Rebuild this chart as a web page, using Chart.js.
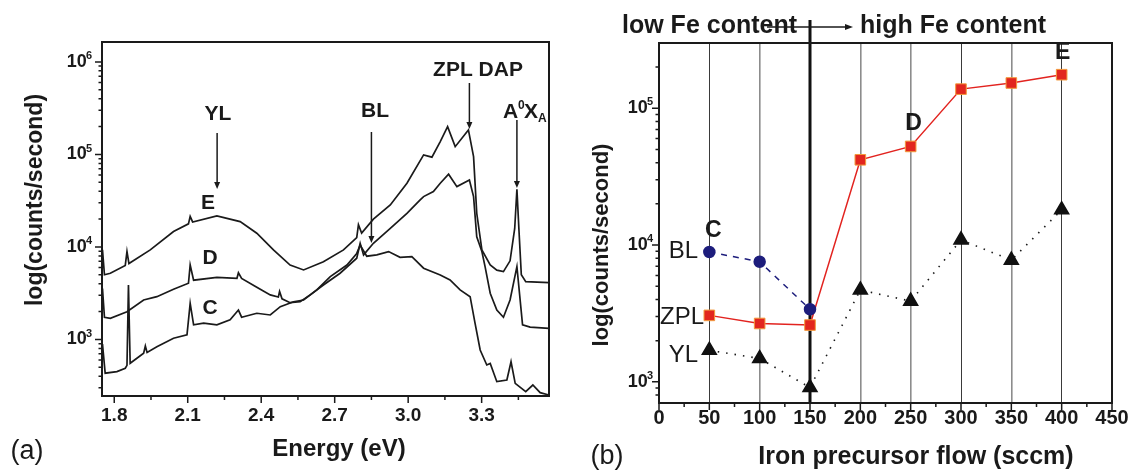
<!DOCTYPE html>
<html>
<head>
<meta charset="utf-8">
<script src="https://cdn.jsdelivr.net/npm/chart.js@4.4.1/dist/chart.umd.min.js"></script>
<style>
  body { margin: 0; background: #fff; }
  #wrap { position: relative; width: 1133px; height: 472px; }
  canvas { position: absolute; top: 0; }
  #left { left: 0; }
  #right { left: 575px; }
</style>
</head>
<body>
<div id="wrap">
  <canvas id="left" width="575" height="472"></canvas>
  <canvas id="right" width="558" height="472"></canvas>
</div>
<script>
// ---- (a) PL spectra, energy in eV, counts/second ----
const energyE = [1.752, 1.760, 1.784, 1.845, 1.852, 1.860, 1.947, 2.042, 2.103, 2.110, 2.120, 2.219, 2.314, 2.382, 2.450, 2.518, 2.573, 2.654, 2.736, 2.790, 2.797, 2.810, 2.858, 2.927, 2.995, 3.063, 3.097, 3.131, 3.161, 3.192, 3.246, 3.267, 3.280, 3.301, 3.335, 3.362, 3.389, 3.416, 3.435, 3.444, 3.452, 3.462, 3.480, 3.575];
const countsE = [9330, 5010, 5200, 6310, 8910, 6610, 9290, 14660, 17780, 21380, 18620, 21630, 18790, 14060, 9290, 6380, 5640, 6930, 9290, 12590, 17380, 14130, 19950, 28440, 48870, 98850, 93330, 137700, 199500, 121300, 184100, 94620, 23120, 9290, 6380, 5620, 5410, 7080, 15850, 42070, 15850, 5010, 4220, 4110];

const energyD = [1.752, 1.760, 1.784, 1.852, 1.920, 1.974, 2.042, 2.103, 2.110, 2.124, 2.219, 2.301, 2.307, 2.320, 2.382, 2.437, 2.470, 2.475, 2.485, 2.518, 2.559, 2.600, 2.654, 2.722, 2.790, 2.804, 2.818, 2.858, 2.927, 2.995, 3.049, 3.063, 3.103, 3.131, 3.165, 3.199, 3.250, 3.267, 3.280, 3.301, 3.314, 3.335, 3.362, 3.389, 3.416, 3.444, 3.467, 3.498, 3.575];
const countsD = [3550, 1740, 1690, 1995, 2670, 2900, 3490, 4050, 6380, 4370, 4700, 4580, 5250, 4570, 3660, 3030, 2880, 3310, 2750, 2500, 2560, 3030, 3880, 5200, 7550, 10960, 8200, 10960, 15850, 23120, 32210, 34990, 39630, 48870, 61090, 44870, 52970, 34990, 12880, 8910, 6120, 3160, 2080, 1740, 2670, 6120, 1440, 1360, 1320];

const energyC = [1.752, 1.763, 1.811, 1.845, 1.852, 1.858, 1.865, 1.920, 1.927, 1.934, 1.974, 2.042, 2.097, 2.110, 2.124, 2.165, 2.219, 2.273, 2.307, 2.320, 2.382, 2.437, 2.478, 2.532, 2.573, 2.627, 2.682, 2.750, 2.790, 2.804, 2.831, 2.872, 2.920, 2.967, 3.015, 3.063, 3.131, 3.171, 3.212, 3.253, 3.273, 3.294, 3.321, 3.335, 3.362, 3.403, 3.420, 3.437, 3.480, 3.509, 3.539, 3.575];
const countsC = [891, 432, 449, 489, 525, 3880, 553, 710, 851, 724, 836, 1030, 1120, 2460, 1440, 1500, 1440, 1630, 2080, 1740, 1920, 1840, 2260, 2560, 2670, 3430, 4780, 6380, 8510, 10470, 7940, 8200, 8910, 7730, 7850, 5890, 4980, 4400, 3430, 2900, 1500, 769, 530, 550, 350, 365, 575, 336, 273, 322, 266, 251];

const energyTicks = [1.8, 2.1, 2.4, 2.7, 3.0, 3.3];
const energyTickLabels = ['1.8', '2.1', '2.4', '2.7', '3.0', '3.3'];
const energyMinorTicks = [1.95, 2.25, 2.55, 2.85, 3.15, 3.45];
const spectrumDecades = [1e3, 1e4, 1e5, 1e6];
const spectrumExponents = ['3', '4', '5', '6'];

// ---- (b) peak intensities vs iron precursor flow ----
const flow = [50, 100, 150, 200, 250, 300, 350, 400];
const zplCounts = [3060, 2670, 2600, 42000, 52600, 138000, 153000, 176000];
const ylCounts = [1700, 1480, 908, 4690, 3890, 10900, 7760, 18100];
const blFlow = [50, 100, 150];
const blCounts = [8900, 7550, 3390];

const flowTicks = [0, 50, 100, 150, 200, 250, 300, 350, 400, 450];
const flowTickLabels = ['0', '50', '100', '150', '200', '250', '300', '350', '400', '450'];
const flowMinorTicks = [25, 75, 125, 175, 225, 275, 325, 375, 425];
const flowDecades = [1e3, 1e4, 1e5];
const flowExponents = ['3', '4', '5'];

const FONT = '"Liberation Sans", Arial, sans-serif';

function toXY(xs, ys) {
  return xs.map((x, i) => ({ x: x, y: ys[i] }));
}

function minorLogTicks(decades, min, max) {
  const out = [];
  const all = [decades[0] / 10].concat(decades);
  all.forEach(d => {
    for (let k = 2; k <= 9; k++) {
      const v = d * k;
      if (v > min && v < max) out.push(v);
    }
  });
  return out;
}

function setFont(ctx, weight, size) {
  ctx.font = weight + ' ' + size + 'px ' + FONT;
}

function text(ctx, str, x, y, weight, size, align) {
  setFont(ctx, weight, size);
  ctx.textAlign = align || 'center';
  ctx.textBaseline = 'middle';
  ctx.fillStyle = '#1a1a1a';
  ctx.fillText(str, x, y);
}

function powerLabel(ctx, exp, xRight, y, size) {
  setFont(ctx, 'bold', Math.round(size * 0.6));
  const we = ctx.measureText(exp).width;
  ctx.textAlign = 'right';
  ctx.textBaseline = 'middle';
  ctx.fillStyle = '#1a1a1a';
  ctx.fillText(exp, xRight, y - size * 0.33);
  setFont(ctx, 'bold', size);
  ctx.fillText('10', xRight - we + 1, y);
}

function frame(ctx, a) {
  ctx.save();
  ctx.strokeStyle = '#1a1a1a';
  ctx.lineWidth = 2;
  ctx.strokeRect(a.left, a.top, a.right - a.left, a.bottom - a.top);
  ctx.restore();
}

function xTicks(ctx, scale, a, values, len) {
  ctx.beginPath();
  values.forEach(v => {
    const p = scale.getPixelForValue(v);
    ctx.moveTo(p, a.bottom);
    ctx.lineTo(p, a.bottom + len);
  });
  ctx.stroke();
}

function yTicks(ctx, scale, a, values, len) {
  ctx.beginPath();
  values.forEach(v => {
    const p = scale.getPixelForValue(v);
    ctx.moveTo(a.left, p);
    ctx.lineTo(a.left - len, p);
  });
  ctx.stroke();
}

function arrowDown(ctx, x, y1, y2) {
  ctx.beginPath();
  ctx.moveTo(x, y1);
  ctx.lineTo(x, y2 - 5);
  ctx.stroke();
  ctx.beginPath();
  ctx.moveTo(x - 3, y2 - 7);
  ctx.lineTo(x + 3, y2 - 7);
  ctx.lineTo(x, y2);
  ctx.closePath();
  ctx.fill();
}

const leftDecor = {
  id: 'leftDecor',
  afterDraw(chart) {
    const ctx = chart.ctx;
    const a = chart.chartArea;
    const xs = chart.scales.x;
    const ys = chart.scales.y;
    ctx.save();
    ctx.strokeStyle = '#1a1a1a';
    ctx.fillStyle = '#1a1a1a';
    ctx.lineWidth = 1.5;
    xTicks(ctx, xs, a, energyTicks, 7);
    xTicks(ctx, xs, a, energyMinorTicks, 4);
    yTicks(ctx, ys, a, spectrumDecades, 7);
    yTicks(ctx, ys, a, minorLogTicks(spectrumDecades, ys.min, ys.max), 3.5);
    frame(ctx, a);

    energyTicks.forEach((v, i) => {
      text(ctx, energyTickLabels[i], xs.getPixelForValue(v), a.bottom + 20, 'bold', 19);
    });
    spectrumDecades.forEach((v, i) => {
      powerLabel(ctx, spectrumExponents[i], a.left - 10, ys.getPixelForValue(v), 18);
    });

    text(ctx, 'Energy (eV)', 339, 449, 'bold', 24);
    ctx.save();
    ctx.translate(36, 200);
    ctx.rotate(-Math.PI / 2);
    text(ctx, 'log(counts/second)', 0, 0, 'bold', 23);
    ctx.restore();
    text(ctx, '(a)', 27, 452, 'normal', 27);

    // peak annotations
    ctx.lineWidth = 1.5;
    text(ctx, 'YL', 218, 114, 'bold', 21);
    arrowDown(ctx, xs.getPixelForValue(2.22), 133, 189);
    text(ctx, 'BL', 375, 111, 'bold', 21);
    arrowDown(ctx, xs.getPixelForValue(2.85), 132, 243);
    text(ctx, 'ZPL DAP', 478, 70, 'bold', 21);
    arrowDown(ctx, xs.getPixelForValue(3.25), 83, 129);
    // A0XA
    text(ctx, 'A', 503, 112, 'bold', 21, 'left');
    text(ctx, '0', 518, 106, 'bold', 12, 'left');
    text(ctx, 'X', 524, 112, 'bold', 21, 'left');
    text(ctx, 'A', 538, 119, 'bold', 12, 'left');
    arrowDown(ctx, xs.getPixelForValue(3.444), 120, 188);

    text(ctx, 'E', 208, 203, 'bold', 21);
    text(ctx, 'D', 210, 258, 'bold', 21);
    text(ctx, 'C', 210, 308, 'bold', 21);
    ctx.restore();
  }
};

const rightDecor = {
  id: 'rightDecor',
  beforeDatasetsDraw(chart) {
    const ctx = chart.ctx;
    const a = chart.chartArea;
    const xs = chart.scales.x;
    const p = xs.getPixelForValue(150);
    ctx.save();
    ctx.strokeStyle = '#111';
    ctx.lineWidth = 3;
    ctx.beginPath();
    ctx.moveTo(p, 20);
    ctx.lineTo(p, a.bottom);
    ctx.stroke();
    ctx.restore();
  },
  afterDraw(chart) {
    const ctx = chart.ctx;
    const a = chart.chartArea;
    const xs = chart.scales.x;
    const ys = chart.scales.y;
    ctx.save();
    ctx.strokeStyle = '#1a1a1a';
    ctx.fillStyle = '#1a1a1a';
    ctx.lineWidth = 1.5;
    xTicks(ctx, xs, a, flowTicks, 7);
    xTicks(ctx, xs, a, flowMinorTicks, 4);
    yTicks(ctx, ys, a, flowDecades, 7);
    yTicks(ctx, ys, a, minorLogTicks(flowDecades, ys.min, ys.max), 3.5);
    frame(ctx, a);

    flowTicks.forEach((v, i) => {
      text(ctx, flowTickLabels[i], xs.getPixelForValue(v), a.bottom + 15, 'bold', 20);
    });
    flowDecades.forEach((v, i) => {
      powerLabel(ctx, flowExponents[i], a.left - 6, ys.getPixelForValue(v), 18);
    });

    text(ctx, 'Iron precursor flow (sccm)', 341, 457, 'bold', 25);
    ctx.save();
    ctx.translate(27, 245);
    ctx.rotate(-Math.PI / 2);
    text(ctx, 'log(counts/second)', 0, 0, 'bold', 22);
    ctx.restore();
    text(ctx, '(b)', 32, 457, 'normal', 27);

    // low / high Fe content header with arrow
    text(ctx, 'low Fe content', 47, 26, 'bold', 25, 'left');
    text(ctx, 'high Fe content', 285, 26, 'bold', 25, 'left');
    ctx.lineWidth = 1.5;
    ctx.beginPath();
    ctx.moveTo(192, 27);
    ctx.lineTo(272, 27);
    ctx.stroke();
    ctx.beginPath();
    ctx.moveTo(278, 27);
    ctx.lineTo(270, 24);
    ctx.lineTo(270, 30);
    ctx.closePath();
    ctx.fill();

    // series and sample labels
    text(ctx, 'BL', 123, 251, 'normal', 24, 'right');
    text(ctx, 'ZPL', 129, 317, 'normal', 24, 'right');
    text(ctx, 'YL', 123, 355, 'normal', 24, 'right');
    text(ctx, 'C', xs.getPixelForValue(50) + 4, 231, 'bold', 23);
    text(ctx, 'D', xs.getPixelForValue(250) + 3, 124, 'bold', 23);
    text(ctx, 'E', xs.getPixelForValue(400) + 1, 53, 'bold', 23);
    ctx.restore();
  }
};

new Chart(document.getElementById('left'), {
  type: 'line',
  data: {
    datasets: [
      { data: toXY(energyE, countsE), borderColor: '#1a1a1a' },
      { data: toXY(energyD, countsD), borderColor: '#1a1a1a' },
      { data: toXY(energyC, countsC), borderColor: '#1a1a1a' }
    ]
  },
  options: {
    responsive: false,
    animation: false,
    events: [],
    layout: { padding: { left: 102, top: 42, right: 26, bottom: 76 } },
    plugins: { legend: { display: false }, tooltip: { enabled: false } },
    elements: { point: { radius: 0 }, line: { borderWidth: 1.7, tension: 0 } },
    scales: {
      x: { type: 'linear', min: 1.75, max: 3.575, display: false },
      y: { type: 'logarithmic', min: 245, max: 1.64e6, display: false }
    }
  },
  plugins: [leftDecor]
});

new Chart(document.getElementById('right'), {
  type: 'line',
  data: {
    datasets: [
      {
        data: toXY(blFlow, blCounts),
        borderColor: '#1d1d7c', borderWidth: 1.5, borderDash: [6, 6],
        pointStyle: 'circle', pointRadius: 5.5,
        pointBackgroundColor: '#1d1d7c', pointBorderColor: '#1d1d7c', order: 1
      },
      {
        data: toXY(flow, zplCounts),
        borderColor: '#e2231f', borderWidth: 1.5,
        pointStyle: 'rect', pointRadius: 7.5,
        pointBackgroundColor: '#e2261f', pointBorderColor: '#f39a3c', pointBorderWidth: 1, order: 2
      },
      {
        data: toXY(flow, ylCounts),
        borderColor: '#1a1a1a', borderWidth: 1.6, borderDash: [1.5, 7],
        pointStyle: 'triangle', pointRadius: 8,
        pointBackgroundColor: '#111', pointBorderColor: '#111', order: 3
      }
    ]
  },
  options: {
    responsive: false,
    animation: false,
    events: [],
    layout: { padding: { left: 84, top: 43, right: 21, bottom: 69 } },
    plugins: { legend: { display: false }, tooltip: { enabled: false } },
    elements: { line: { tension: 0 } },
    scales: {
      x: {
        type: 'linear', min: 0, max: 450,
        ticks: { display: false, stepSize: 50 },
        border: { display: false },
        grid: {
          drawTicks: false,
          color: c => (c.tick.value > 0 && c.tick.value < 450 && c.tick.value !== 150)
            ? ([50, 300, 400].includes(c.tick.value) ? '#3a3a3a' : '#8c8c8c')
            : 'rgba(0,0,0,0)',
          lineWidth: c => [50, 300, 400].includes(c.tick.value) ? 1 : 1.6
        },
        afterFit: s => { s.height = 0; }
      },
      y: { type: 'logarithmic', min: 700, max: 3.0e5, display: false }
    }
  },
  plugins: [rightDecor]
});
</script>
</body>
</html>
